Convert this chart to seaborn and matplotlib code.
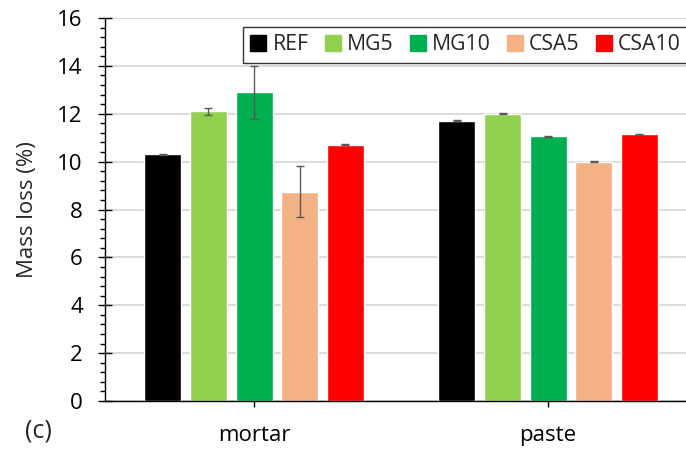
import matplotlib
matplotlib.use("Agg")
import matplotlib.pyplot as plt
import pandas as pd
import seaborn as sns
from matplotlib.lines import Line2D
from matplotlib.ticker import MultipleLocator

# Data
categories = ["mortar", "paste"]
mixes = ["REF", "MG5", "MG10", "CSA5", "CSA10"]
mortar_loss = [10.3, 12.1, 12.9, 8.75, 10.7]
paste_loss = [11.7, 12.0, 11.05, 10.0, 11.15]
mortar_err = [0.02, 0.15, 1.1, 1.05, 0.02]
paste_err = [0.02, 0.02, 0.02, 0.03, 0.02]
colors = ["#000000", "#92D050", "#00B050", "#F4B183", "#FF0000"]

df = pd.DataFrame({
    "sample": ["mortar"] * 5 + ["paste"] * 5,
    "mix": mixes * 2,
    "loss": mortar_loss + paste_loss,
    "err": mortar_err + paste_err,
})

sns.set_style("white")
plt.rcParams["font.family"] = ["Open Sans", "DejaVu Sans"]

W, H = 686, 449
fig = plt.figure(figsize=(W / 100, H / 100), dpi=100)
ax = fig.add_axes([105 / W, 1 - 401 / H, (W - 105) / W, (401 - 18) / H])

sns.barplot(
    data=df, x="sample", y="loss", hue="mix",
    order=categories, hue_order=mixes, palette=colors,
    width=0.775, gap=0.19, errorbar=None, saturation=1,
    legend=False, ax=ax, zorder=2,
)

# Error bars on each bar
for mix, cont in zip(mixes, ax.containers):
    for cat, bar in zip(categories, cont):
        err = df.loc[(df["mix"] == mix) & (df["sample"] == cat), "err"].iloc[0]
        ax.errorbar(
            bar.get_x() + bar.get_width() / 2, bar.get_height(), yerr=err,
            fmt="none", ecolor="#595959", elinewidth=1, capsize=3,
            capthick=1, zorder=3,
        )

ax.set_ylim(0, 16)
ax.set_xlim(-0.507, 1.469)
ax.yaxis.set_major_locator(MultipleLocator(2))
ax.yaxis.set_minor_locator(MultipleLocator(0.4))
ax.yaxis.grid(True, color="#d9d9d9", lw=1.3)
ax.set_axisbelow(True)

for side in ["top", "right"]:
    ax.spines[side].set_visible(False)
for side in ["left", "bottom"]:
    ax.spines[side].set_color("black")
    ax.spines[side].set_linewidth(1)

ax.tick_params(axis="y", which="major", left=True, direction="inout",
               length=10, width=1, labelsize=16, pad=11, colors="black")
ax.tick_params(axis="y", which="minor", left=True, direction="out",
               length=3.5, width=1, colors="black")
ax.tick_params(axis="x", which="major", bottom=True, direction="out",
               length=4, width=1, labelsize=16, pad=13, colors="black")

ax.set_xlabel("")
ax.set_ylabel("Mass loss (%)", fontsize=16, labelpad=14)

handles = [
    Line2D([], [], marker="s", linestyle="", markersize=11,
           markerfacecolor=c, markeredgecolor=c)
    for c in colors
]
leg = ax.legend(
    handles, mixes, ncol=5, loc="upper left",
    bbox_to_anchor=(243 / W, 1 - 27 / H), bbox_transform=fig.transFigure,
    fontsize=15.3, frameon=True, fancybox=False, edgecolor="black",
    handletextpad=0.3, columnspacing=0.75, borderpad=0.35,
    handlelength=0.75, borderaxespad=0,
)
leg.get_frame().set_linewidth(1)

fig.text(25 / W, 1 - 431 / H, "(c)", fontsize=18, va="center")

fig.savefig("out.png", dpi=100)
